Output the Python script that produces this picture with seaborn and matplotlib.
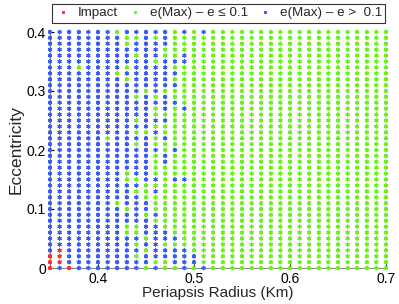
import numpy as np
import pandas as pd
import matplotlib
matplotlib.use("Agg")
import matplotlib.pyplot as plt
import seaborn as sns

# Periapsis radius (Km) columns and eccentricity rows
periapsis = [0.35, 0.36, 0.37, 0.38, 0.39, 0.40, 0.41, 0.42, 0.43, 0.44, 0.45, 0.46,
             0.47, 0.48, 0.49, 0.50, 0.51, 0.52, 0.53, 0.54, 0.55, 0.56, 0.57, 0.58,
             0.59, 0.60, 0.61, 0.62, 0.63, 0.64, 0.65, 0.66, 0.67, 0.68, 0.69, 0.70]
eccentricity = [0.40, 0.39, 0.38, 0.37, 0.36, 0.35, 0.34, 0.33, 0.32, 0.31, 0.30,
                0.29, 0.28, 0.27, 0.26, 0.25, 0.24, 0.23, 0.22, 0.21, 0.20, 0.19,
                0.18, 0.17, 0.16, 0.15, 0.14, 0.13, 0.12, 0.11, 0.10, 0.09, 0.08,
                0.07, 0.06, 0.05, 0.04, 0.03, 0.02, 0.01, 0.00]
# outcome class per grid cell (row = eccentricity, col = periapsis):
# r = Impact, g = e(Max)-e <= 0.1, b = e(Max)-e > 0.1
outcome_rows = [
    "bbbbbbbgbbbbbgbgbg" "gggggggggggggggggg",  # 0.40
    "bbbbbbbbggbgbggggg" "gggggggggggggggggg",  # 0.39
    "bbbbbbbbgbbbbggggg" "gggggggggggggggggg",  # 0.38
    "bbbbbbbbbbbbgggggg" "gggggggggggggggggg",  # 0.37
    "bbbbbbbbbgbbggbggg" "gggggggggggggggggg",  # 0.36
    "bbbbbbbbbbbgbbbggg" "gggggggggggggggggg",  # 0.35
    "bbbgbbbbgbbbbggggg" "gggggggggggggggggg",  # 0.34
    "bbbbbbbgbbbbbbgggg" "gggggggggggggggggg",  # 0.33
    "bbbbbbbbgbbbbggggg" "gggggggggggggggggg",  # 0.32
    "bbbbbbbbbbbbbbgggg" "gggggggggggggggggg",  # 0.31
    "bbbbbbbbbbgbgggggg" "gggggggggggggggggg",  # 0.30
    "bbbbbbbbbgbgbggggg" "gggggggggggggggggg",  # 0.29
    "bbbbbbbbbbbbbbgggg" "gggggggggggggggggg",  # 0.28
    "bbbbbbbbbbbgbgbggg" "gggggggggggggggggg",  # 0.27
    "bbbbbbbbbbbggggggg" "gggggggggggggggggg",  # 0.26
    "bbbbbbbbbgbbbggggg" "gggggggggggggggggg",  # 0.25
    "bbbbbbbbbbbggggggg" "gggggggggggggggggg",  # 0.24
    "bbbbbbbbbggbgggggg" "gggggggggggggggggg",  # 0.23
    "bbbbbbgbbbbgbggggg" "gggggggggggggggggg",  # 0.22
    "bbbbbbbbbgbggggggg" "gggggggggggggggggg",  # 0.21
    "bbbbbbbbbbbbgbgggg" "gggggggggggggggggg",  # 0.20
    "bbbbbbbbbbbgbggggg" "gggggggggggggggggg",  # 0.19
    "bbbbbbbbbbbgbggggg" "gggggggggggggggggg",  # 0.18
    "bbbbbbbbbbbggggggg" "gggggggggggggggggg",  # 0.17
    "bbbbbbbbgbbggggggg" "gggggggggggggggggg",  # 0.16
    "bbbbbbbbggbbgbbggg" "gggggggggggggggggg",  # 0.15
    "bbbbbbbbbbgggggggg" "gggggggggggggggggg",  # 0.14
    "bbbbbbbbbggbgggggg" "gggggggggggggggggg",  # 0.13
    "bbbbbbbbbbgggggggg" "gggggggggggggggggg",  # 0.12
    "bbbbbbbgbbbggggggg" "gggggggggggggggggg",  # 0.11
    "bbbbbbbbgbbggggggg" "gggggggggggggggggg",  # 0.10
    "bbbbbbbbbbgbgggggg" "gggggggggggggggggg",  # 0.09
    "bbbbbbbbbbbggggggg" "gggggggggggggggggg",  # 0.08
    "bbbbbbbbggbbgggggg" "gggggggggggggggggg",  # 0.07
    "bbbbbbbbggbbbggggg" "gggggggggggggggggg",  # 0.06
    "bbbbbbbbbbgbbbgggg" "gggggggggggggggggg",  # 0.05
    "bbbbbbbbbgbbgggggg" "gggggggggggggggggg",  # 0.04
    "brbbbbbbbbgbbbbggg" "gggggggggggggggggg",  # 0.03
    "rrbbbbbbbgbbbbbbgg" "gggggggggggggggggg",  # 0.02
    "rrbbbbbbbbbggbbbgg" "gggggggggggggggggg",  # 0.01
    "rbrbbbbbbbgbggbgbg" "gggggggggggggggggg",  # 0.00
]
class_names = {"r": "Impact",
               "g": "e(Max) \u2013 e \u2264 0.1",
               "b": "e(Max) \u2013 e >  0.1"}
x_ticks = [0.4, 0.5, 0.6, 0.7]
y_ticks = [0, 0.1, 0.2, 0.3, 0.4]

recs = []
for yi, row in zip(eccentricity, outcome_rows):
    for xi, c in zip(periapsis, row):
        recs.append((xi, yi, class_names[c]))
df = pd.DataFrame(recs, columns=["rp", "e", "cls"])

sns.set_style("white")
plt.rcParams["font.family"] = ["Liberation Sans", "DejaVu Sans"]

fig = plt.figure(figsize=(3.99, 3.04), dpi=100)
ax = fig.add_axes([50 / 399, 36 / 304, 336 / 399, 236 / 304])

order = [class_names["r"], class_names["g"], class_names["b"]]
palette = {order[0]: "#ff2a2a", order[1]: "#6ef01c", order[2]: "#3a5cf2"}
sns.scatterplot(data=df, x="rp", y="e", hue="cls", hue_order=order,
                palette=palette, marker=(6, 2, 0), s=6, linewidth=0.85,
                ax=ax, clip_on=False, legend=True, zorder=3)

ax.set_xlim(0.35, 0.70)
ax.set_ylim(0, 0.40)
ax.set_xticks(x_ticks)
ax.set_xticklabels(["0.4", "0.5", "0.6", "0.7"])
ax.set_yticks(y_ticks)
ax.set_yticklabels(["0", "0.1", "0.2", "0.3", "0.4"])
ax.tick_params(direction="in", length=3, labelsize=10, colors="#000000",
               left=True, bottom=True, pad=3)
for s in ["top", "right"]:
    ax.spines[s].set_visible(False)
for s in ["left", "bottom"]:
    ax.spines[s].set_color("#8a8a8a")
    ax.spines[s].set_linewidth(0.8)
ax.set_xlabel("Periapsis Radius (Km)", fontsize=11, labelpad=0)
ax.set_ylabel("Eccentricity", fontsize=12.5, labelpad=2)

handles, labels = ax.get_legend_handles_labels()
ax.get_legend().remove()
leg = fig.legend(handles, labels, loc="center",
                 bbox_to_anchor=(218.5 / 399, 1 - 13 / 304), ncol=3,
                 frameon=True, fancybox=False, fontsize=9.6,
                 handletextpad=0.5, columnspacing=0.7, borderpad=0.25,
                 markerscale=0.8, handlelength=1.2)
leg.get_frame().set_edgecolor("black")
leg.get_frame().set_linewidth(0.8)

fig.savefig("out.png", dpi=100)
